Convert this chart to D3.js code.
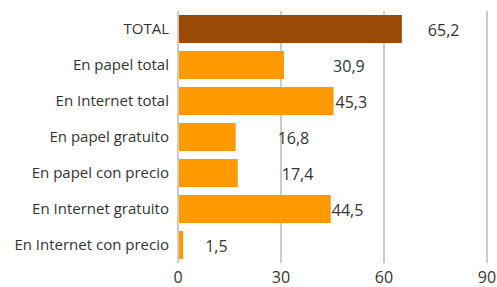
<!DOCTYPE html>
<html><head><meta charset="utf-8">
<script src="https://cdn.jsdelivr.net/npm/d3@7"></script>
<style>
html,body{margin:0;padding:0;background:#fff;}
svg{display:block;font-family:"Open Sans", Lato, sans-serif;}
</style></head>
<body>
<svg id="chart" width="497" height="287"></svg>
<script>
const categories = ["TOTAL","En papel total","En Internet total","En papel gratuito","En papel con precio","En Internet gratuito","En Internet con precio"];
const values = [65.2, 30.9, 45.3, 16.8, 17.4, 44.5, 1.5];
const valueLabels = ["65,2","30,9","45,3","16,8","17,4","44,5","1,5"];
const tickValues = [0, 30, 60, 90];
// layout: gap (px) between bar end and its value label, as in the original
const labelGap = [26, 49, 2, 42, 44, 1, 22];

const svg = d3.select("#chart");
const x = d3.scaleLinear().domain([0, 90]).range([178, 487]);
const y = d3.scaleBand().domain(categories).range([11, 263]).paddingInner(0.222).paddingOuter(0.111);

// gridlines
svg.append("g").selectAll("line").data(tickValues).join("line")
  .attr("x1", d => x(d)).attr("x2", d => x(d))
  .attr("y1", 11).attr("y2", 263)
  .attr("stroke", "#aaaaaa").attr("stroke-width", 1.2);

// bars
svg.append("g").selectAll("rect").data(values).join("rect")
  .attr("x", x(0) + 1)
  .attr("y", (d, i) => y(categories[i]))
  .attr("width", d => x(d) - x(0) - 1)
  .attr("height", y.bandwidth())
  .attr("fill", (d, i) => i === 0 ? "#994a06" : "#fe9a00");

// value labels
svg.append("g").selectAll("text").data(values).join("text")
  .attr("x", (d, i) => x(d) + labelGap[i])
  .attr("y", (d, i) => y(categories[i]) + y.bandwidth() / 2 + 1)
  .attr("dy", "0.35em")
  .attr("font-size", 16)
  .attr("fill", "#333")
  .text((d, i) => valueLabels[i]);

// category labels
svg.append("g").selectAll("text").data(categories).join("text")
  .attr("x", 169)
  .attr("y", d => y(d) + y.bandwidth() / 2)
  .attr("dy", "0.35em")
  .attr("text-anchor", "end")
  .attr("font-size", 15)
  .attr("fill", "#333")
  .text(d => d);

// x axis tick labels
svg.append("g").selectAll("text").data(tickValues).join("text")
  .attr("x", d => x(d))
  .attr("y", 277)
  .attr("dy", "0.35em")
  .attr("text-anchor", "middle")
  .attr("font-size", 16)
  .attr("fill", "#333")
  .text(d => d);
</script>
</body></html>
